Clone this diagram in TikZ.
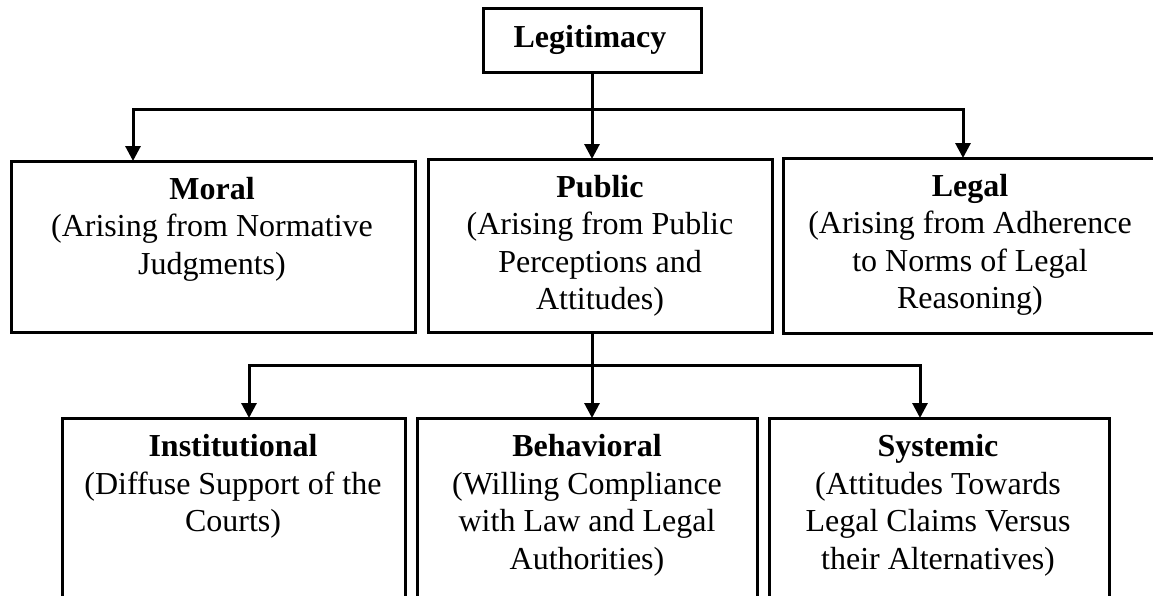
\documentclass[tikz,border=0pt]{standalone}
\usepackage{fontspec}
\setmainfont{Liberation Serif}
\usetikzlibrary{arrows.meta}
\begin{document}
\begin{tikzpicture}[x=1pt,y=-1pt,
  box/.style={draw=black,line width=3pt,fill=none,inner sep=0pt,outer sep=0pt},
  txt/.style={align=center,inner sep=0pt,anchor=north,font=\fontsize{32}{37.5}\selectfont},
  conn/.style={line width=3pt},
  arr/.style={line width=3pt,-{Triangle[width=15pt,length=15pt]}}]
\useasboundingbox (0,0) rectangle (1153,595);
% boxes
\node[box,minimum width=218pt,minimum height=64pt] (legit) at (592,40) {};
\node[box,minimum width=404pt,minimum height=171pt] (moral) at (213,246.5) {};
\node[box,minimum width=344pt,minimum height=173pt] (public) at (600,245.5) {};
\node[box,minimum width=375pt,minimum height=175pt] (legal) at (970.5,245.5) {};
\node[box,minimum width=343pt,minimum height=200pt] (inst) at (233.5,518) {};
\node[box,minimum width=340pt,minimum height=200pt] (behav) at (587,518) {};
\node[box,minimum width=340pt,minimum height=200pt] (syst) at (939,518) {};
% texts
\node[txt] (tlegit) at (590,25.5) {\textbf{Legitimacy}};
\node[txt] (tmoral) at (212,177) {\textbf{Moral}\\(Arising from Normative\\Judgments)};
\node[txt] (tpublic) at (600,175) {\textbf{Public}\\(Arising from Public\\Perceptions and\\Attitudes)};
\node[txt] (tlegal) at (970,174) {\textbf{Legal}\\(Arising from Adherence\\to Norms of Legal\\Reasoning)};
\node[txt] (tinst) at (233,434.5) {\textbf{Institutional}\\(Diffuse Support of the\\Courts)};
\node[txt] (tbehav) at (587,434.5) {\textbf{Behavioral}\\(Willing Compliance\\with Law and Legal\\Authorities)};
\node[txt] (tsyst) at (938,434.5) {\textbf{Systemic}\\(Attitudes Towards\\Legal Claims Versus\\their Alternatives)};
% junction coordinates
\coordinate (b1L) at (133,109);
\coordinate (b1R) at (963,109);
\coordinate (b2L) at (249,365);
\coordinate (b2M) at (592,365);
\coordinate (b2R) at (920,365);
% connectors level 1
\draw[arr] (legit.south) -- (legit.south |- public.north);
\draw[arr] (legit.south |- b1L) -- (b1L) -- (b1L |- moral.north);
\draw[arr] (legit.south |- b1R) -- (b1R) -- (b1R |- legal.north);
% connectors level 2
\draw[arr] (b2M |- public.south) -- (b2M |- behav.north);
\draw[arr] (b2M) -- (b2L) -- (b2L |- inst.north);
\draw[arr] (b2M) -- (b2R) -- (b2R |- syst.north);
\end{tikzpicture}
\end{document}
